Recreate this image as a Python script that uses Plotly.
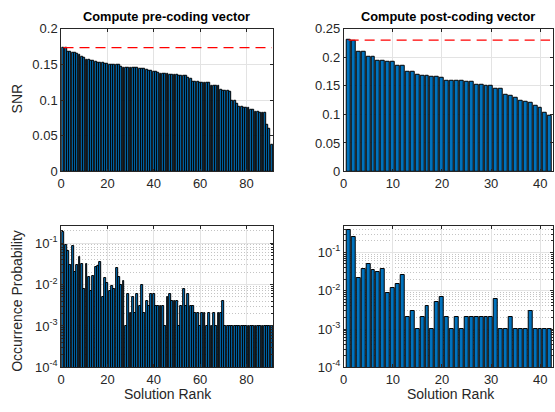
import plotly.graph_objects as go

# ---------------- data ----------------
snr_pre = [0.1736, 0.1731,
           0.1675, 0.1672, 0.1670, 0.1668,
           0.1645, 0.1640,
           0.1605, 0.1598,
           0.1565, 0.1560,
           0.1552, 0.1548,
           0.1535, 0.1530,
           0.1522, 0.1518, 0.1515, 0.1512,
           0.1502, 0.1500, 0.1498, 0.1495,
           0.1490,
           0.1462, 0.1460, 0.1458, 0.1456, 0.1455, 0.1454, 0.1452, 0.1450,
           0.1440, 0.1438, 0.1436, 0.1432,
           0.1412, 0.1408, 0.1404,
           0.1392, 0.1388,
           0.1376, 0.1372,
           0.1366, 0.1364, 0.1362,
           0.1352, 0.1350, 0.1349, 0.1348, 0.1347, 0.1346, 0.1344,
           0.1310, 0.1302,
           0.1256, 0.1253, 0.1251, 0.1249,
           0.1244, 0.1242, 0.1240, 0.1238,
           0.1205, 0.1202, 0.1200, 0.1197,
           0.1152,
           0.1130, 0.1128, 0.1126, 0.1124,
           0.0995, 0.0988,
           0.0945,
           0.0908, 0.0903,
           0.0895, 0.0890, 0.0886,
           0.0868, 0.0862,
           0.0835, 0.0830, 0.0826,
           0.0822, 0.0818,
           0.0655,
           0.0592,
           0.0375]

snr_post = [0.2302, 0.2298, 0.2105, 0.2100, 0.2015, 0.2010, 0.1947, 0.1943,
            0.1920, 0.1915, 0.1850, 0.1845, 0.1744, 0.1740, 0.1687, 0.1683,
            0.1670, 0.1666, 0.1653, 0.1648, 0.1588, 0.1586, 0.1584, 0.1582,
            0.1570, 0.1566, 0.1522, 0.1518, 0.1502, 0.1498, 0.1452, 0.1448,
            0.1337, 0.1330, 0.1300, 0.1236, 0.1220, 0.1207, 0.1150, 0.1120,
            0.1030, 0.0976]

prob_pre = [0.18, 0.09, 0.066, 0.030, 0.084, 0.020, 0.030, 0.047, 0.031, 0.008,
            0.032, 0.015, 0.007, 0.016, 0.026, 0.028, 0.034, 0.005, 0.014, 0.011,
            0.007, 0.009, 0.008, 0.025, 0.015, 0.010, 0.012, 0.001, 0.006, 0.002,
            0.005, 0.002, 0.006, 0.003, 0.010, 0.002, 0.004, 0.003, 0.006, 0.006,
            0.003, 0.003, 0.003, 0.003, 0.001, 0.005, 0.006, 0.004, 0.004, 0.004,
            0.001, 0.003, 0.008, 0.003, 0.006, 0.003, 0.003, 0.002, 0.002, 0.001,
            0.002, 0.002, 0.001, 0.002, 0.001, 0.002, 0.001, 0.002, 0.002, 0.004,
            0.001, 0.001, 0.001, 0.001, 0.001, 0.001, 0.001, 0.001, 0.001, 0.001,
            0.001, 0.001, 0.001, 0.001, 0.001, 0.001, 0.001, 0.001, 0.001, 0.001,
            0.001]

prob_post = [0.374, 0.25, 0.022, 0.037, 0.050, 0.035, 0.030, 0.037, 0.0088, 0.0117,
             0.0145, 0.026, 0.002, 0.003, 0.001, 0.002, 0.004, 0.001, 0.005, 0.007,
             0.002, 0.001, 0.002, 0.001, 0.002, 0.002, 0.002, 0.002, 0.002, 0.002,
             0.006, 0.001, 0.001, 0.002, 0.001, 0.001, 0.001, 0.003, 0.001, 0.001,
             0.001, 0.001]

rank_pre = list(range(1, len(snr_pre) + 1))
rank_post = list(range(1, len(snr_post) + 1))

titles = ["Compute pre-coding vector", "Compute post-coding vector"]
snr_ticks_pre = [0, 0.05, 0.1, 0.15, 0.2]
snr_ticks_post = [0, 0.05, 0.1, 0.15, 0.2, 0.25]
x_ticks_pre = [0, 20, 40, 60, 80]
x_ticks_post = [0, 10, 20, 30, 40]
log_ticks = [1e-4, 1e-3, 1e-2, 1e-1]
log_ticktext = ["10<sup>-4</sup>", "10<sup>-3</sup>", "10<sup>-2</sup>", "10<sup>-1</sup>"]
minor_vals = [m * 10.0 ** e for e in range(-4, 0) for m in range(2, 10)]

# ---------------- style ----------------
FONT = "Liberation Sans, Arial, Helvetica, sans-serif"
AX = "#262626"
BAR = "#0072BD"
GRID = "#e3e3e3"

W, H = 555, 412
dom_left = [57.6 / W, 271 / W]
dom_right = [342.2 / W, 553 / W]
dom_top = [1 - 170.7 / H, 1 - 22.6 / H]
dom_bot = [1 - 374 / H, 1 - 227.3 / H]

fig = go.Figure()

def bars(x, y, xa, ya):
    fig.add_trace(go.Bar(x=x, y=y, xaxis=xa, yaxis=ya, width=0.8,
                         marker=dict(color=BAR, line=dict(color="black", width=1)),
                         showlegend=False, hoverinfo="x+y"))

def maxline(x, y, xa, ya):
    m = max(y)
    fig.add_trace(go.Scatter(x=[x[0], x[-1]], y=[m, m], xaxis=xa, yaxis=ya,
                             mode="lines", line=dict(color="#ff0000", width=1.3, dash="10px,6px"),
                             showlegend=False, hoverinfo="skip"))

bars(rank_pre, snr_pre, "x", "y")
maxline(rank_pre, snr_pre, "x", "y")
bars(rank_post, snr_post, "x2", "y2")
maxline(rank_post, snr_post, "x2", "y2")
bars(rank_pre, prob_pre, "x3", "y3")
bars(rank_post, prob_post, "x4", "y4")

common = dict(showline=True, linecolor=AX, linewidth=0.8, mirror="ticks",
              ticks="inside", ticklen=3, tickcolor=AX, tickwidth=0.8,
              showgrid=True, gridcolor=GRID, gridwidth=1, zeroline=False,
              tickfont=dict(family=FONT, size=13, color=AX))

minor = dict(tickmode="array", tickvals=minor_vals, ticks="inside", ticklen=2,
             tickcolor=AX, showgrid=True, gridcolor="#c4c4c4", griddash="1px,2px", gridwidth=1)

fig.update_layout(
    width=W, height=H, margin=dict(l=0, r=0, t=0, b=0),
    paper_bgcolor="white", plot_bgcolor="white", bargap=0,
    font=dict(family=FONT, color=AX),
    xaxis=dict(domain=dom_left, anchor="y", range=[0, 91.5],
               tickmode="array", tickvals=x_ticks_pre, **common),
    yaxis=dict(domain=dom_top, anchor="x", range=[0, 0.2],
               tickmode="array", tickvals=snr_ticks_pre,
               ticktext=[f"{v:g}" for v in snr_ticks_pre], **common),
    xaxis2=dict(domain=dom_right, anchor="y2", range=[0, 42.6],
                tickmode="array", tickvals=x_ticks_post, **common),
    yaxis2=dict(domain=dom_top, anchor="x2", range=[0, 0.25],
                tickmode="array", tickvals=snr_ticks_post,
                ticktext=[f"{v:g}" for v in snr_ticks_post], **common),
    xaxis3=dict(domain=dom_left, anchor="y3", range=[0, 91.5],
                tickmode="array", tickvals=x_ticks_pre, **common),
    yaxis3=dict(domain=dom_bot, anchor="x3", type="log", range=[-4, -0.588],
                tickmode="array", tickvals=log_ticks, ticktext=log_ticktext,
                minor=minor, **common),
    xaxis4=dict(domain=dom_right, anchor="y4", range=[0, 42.6],
                tickmode="array", tickvals=x_ticks_post, **common),
    yaxis4=dict(domain=dom_bot, anchor="x4", type="log", range=[-4, -0.314],
                tickmode="array", tickvals=log_ticks, ticktext=log_ticktext,
                minor=minor, **common),
)

def label(text, x, y, size=14, angle=0, color=AX):
    return dict(text=text, x=x / W, y=1 - y / H, xref="paper", yref="paper",
                textangle=angle, showarrow=False,
                font=dict(family=FONT, size=size, color=color),
                xanchor="center", yanchor="middle")

ann = [
    label("<b>" + titles[0] + "</b>", 164, 9.5, size=12.8, color="black"),
    label("<b>" + titles[1] + "</b>", 447, 9.5, size=12.8, color="black"),
    label("SNR", 13, 95, angle=-90),
    label("Occurrence Probability", 13, 305, angle=-90),
    label("Solution Rank", 165, 402, size=14),
    label("Solution Rank", 450, 402, size=14),
]
fig.update_layout(annotations=ann)

fig.write_html("out.html", config={"displayModeBar": False},
               post_script="document.body.style.margin='0px';document.body.style.overflow='hidden';")
